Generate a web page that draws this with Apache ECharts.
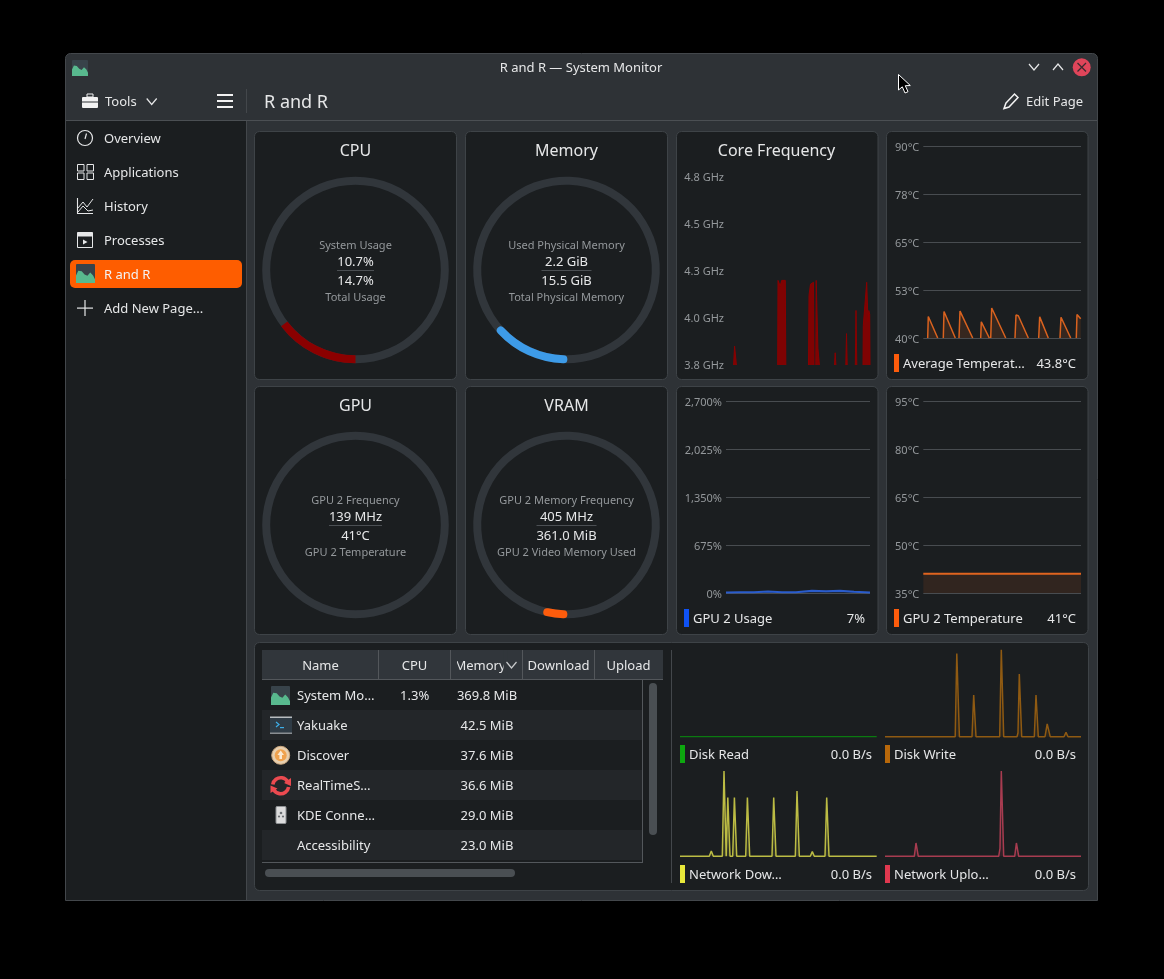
<!DOCTYPE html>
<html>
<head>
<meta charset="UTF-8">
<title>R and R — System Monitor</title>
<script src="https://cdn.jsdelivr.net/npm/echarts@6/dist/echarts.min.js"></script>
<style>
	html,body{margin:0;padding:0;background:#000;}
	#main{width:1164px;height:979px;}
</style>
</head>
<body>
<div id="main"></div>
<script>
	var FONT = '"Noto Sans"';
	var TEXT = '#e6e7e8', DIM = '#94989b', PANEL = '#1b1e20', LINE = '#484c50';

	/* ring cards */
	var rings = [
		{title:"CPU", cx:355.5, cy:270, value:14.7, start:270, color:"#8b0000", cap:false, top:"System Usage", v1:"10.7%", v2:"14.7%", bottom:"Total Usage", w:37},
		{title:"Memory", cx:566.5, cy:270, value:12.6, start:268, color:"#3d9be8", cap:true, top:"Used Physical Memory", v1:"2.2 GiB", v2:"15.5 GiB", bottom:"Total Physical Memory", w:50},
		{title:"GPU", cx:355.5, cy:525, value:0, start:270, color:"#fd5c0c", cap:false, top:"GPU 2 Frequency", v1:"139 MHz", v2:"41°C", bottom:"GPU 2 Temperature", w:53},
		{title:"VRAM", cx:566.5, cy:525, value:2.9, start:268, color:"#fd5c0c", cap:true, top:"GPU 2 Memory Frequency", v1:"405 MHz", v2:"361.0 MiB", bottom:"GPU 2 Video Memory Used", w:60}
	];

	/* [t, value], null row breaks the line */
	var G = null;
	var coreFreq = [[6.6,3.75],[7.6,3.85],[8.6,3.85],[9.4,3.75],[G,G],
		[50.7,3.75],[51,4.2],[52.8,4.2],[53.2,4.17],[54.3,4.17],[54.7,4.2],[58.3,4.2],[58.8,3.75],[G,G],
		[81.5,3.75],[82,4.12],[83,4.12],[83.5,4.18],[86.5,4.19],[87,3.75],[G,G],
		[88.8,3.75],[89.2,4.2],[90.6,4.2],[90.9,3.84],[92,3.84],[92.4,3.75],[G,G],
		[107.5,3.75],[108.2,3.815],[108.9,3.75],[G,G],
		[118.8,3.75],[119.5,3.917],[120.2,3.75],[G,G],
		[128.3,3.75],[129,4.04],[129.8,3.75],[G,G],
		[136,3.75],[136.3,3.96],[138,3.97],[139.7,4.19],[141,3.98],[141.8,4.04],[142.7,4.02],[143,3.75]];
	var avgTemp = [[4.4,40],[5,45.6],[14.4,40],[G,G],
		[20,40],[20.7,46.9],[32,40],[G,G],
		[35.7,40],[36.7,47],[49.4,40],[G,G],
		[57.4,40],[58,44.2],[66,40],[G,G],
		[67.4,40],[68.4,47.8],[82.4,40],[G,G],
		[91.7,40],[92.7,46],[95,45.8],[105,40],[G,G],
		[115.4,40],[116.4,45.5],[125,40],[G,G],
		[136.7,40],[137.7,45.4],[147.4,40],[G,G],
		[153,40],[153.7,46.1],[157.4,45]];
	var gpuUsage = [[0,7],[14,10],[28,9],[42,22],[56,12],[70,11],[86,32],[100,24],[114,33],[128,16],[144,7]];
	var gpuTemp = [[0,41],[40,41],[80,41],[120,41],[157.7,41]];
	var diskRead = [[0,0],[100,0],[196.7,0]];
	var diskWrite = [[0,0],[70.2,0],[71.8,83.3],[72.8,83.3],[74.4,0],[87,0],[88.7,41.7],[89.3,41.7],[91,0],
		[114.7,0],[116.3,87],[117.1,87],[118.7,0],[132,0],[133,4],[134.3,62.7],[135.1,62.7],[136.7,0],
		[149.3,0],[151,41.7],[151.6,41.7],[153.3,0],[160,0],[162.2,12.7],[163.2,12.7],[165.2,0],
		[179,0],[181,4.3],[183,0],[196,0]];
	var netDown = [[0,0],[29.3,0],[31.3,5.3],[33.3,0],[42.3,0],[44,85.3],[44.7,85.3],[46.2,0],[46.6,0],[47.8,58.7],[48.4,58.7],[50,0],
		[52.7,0],[54.4,58.7],[55,58.7],[56.7,0],[65.7,0],[67.4,58.7],[68,58.7],[69.7,0],[92,0],[93.7,58.7],[94.3,58.7],[96,0],
		[115.3,0],[117,65.3],[117.6,65.3],[119.3,0],[130.3,0],[132.3,4.7],[134.3,0],[145,0],[146.7,58.7],[147.3,58.7],[149,0],[196.7,0]];
	var netUp = [[0,0],[29.3,0],[31,13.3],[31.6,13.3],[33.3,0],[113.7,0],[115,8],[116.3,85.3],[117.1,85.3],[118.7,0],
		[129.7,0],[131.4,13.3],[132,13.3],[133.7,0],[196,0]];

	function f1(v){ return v.toFixed(1) + " GHz"; }
	function f0(v){ return v.toFixed(0) + "°C"; }
	function pct(v){ return v.toLocaleString("en-US") + "%"; }

	var charts = [
		{grid:[727,177,143,188], xMax:143, yMin:3.75, yMax:4.75, step:0.25, fmt:f1, split:false, color:"#8b0000", alpha:0.9, lw:1, margin:3, drop:2, data:coreFreq},
		{grid:[923.3,146,157.7,192], xMax:157.7, yMin:40, yMax:90, step:12.5, fmt:f0, split:true, color:"#d9621f", alpha:0.14, lw:1.5, margin:4, drop:4, data:avgTemp},
		{grid:[726,401,144,192], xMax:144, yMin:0, yMax:2700, step:675, fmt:pct, split:true, color:"#2a5ccc", alpha:0.2, lw:2, margin:4, drop:4, data:gpuUsage},
		{grid:[923.3,401,157.7,192], xMax:157.7, yMin:35, yMax:95, step:15, fmt:f0, split:true, color:"#e0641f", alpha:0.11, lw:2, margin:4, drop:4, data:gpuTemp},
		{grid:[680,649.7,196.7,87], xMax:196.7, yMin:0, yMax:87, color:"#0b7a10", alpha:0.15, lw:1.2, data:diskRead},
		{grid:[885,649.7,196,87], xMax:196, yMin:0, yMax:87, color:"#8f5a12", alpha:0.15, lw:1.5, data:diskWrite},
		{grid:[680,769.3,196.7,87], xMax:196.7, yMin:0, yMax:87, color:"#bcbc44", alpha:0.15, lw:1.5, data:netDown},
		{grid:[885,769.3,196,87], xMax:196, yMin:0, yMax:87, color:"#a83c50", alpha:0.15, lw:1.5, data:netUp}
	];

	var legends = [
		{x:894, y:363, w:182, color:"#fd5c0c", name:"Average Temperat…", value:"43.8°C"},
		{x:684, y:618, w:181, color:"#0f52f5", name:"GPU 2 Usage", value:"7%"},
		{x:894, y:618, w:182, color:"#fd5c0c", name:"GPU 2 Temperature", value:"41°C"},
		{x:680, y:754, w:192, color:"#0da80f", name:"Disk Read", value:"0.0 B/s"},
		{x:885, y:754, w:191, color:"#b8680a", name:"Disk Write", value:"0.0 B/s"},
		{x:680, y:874, w:192, color:"#e8e83a", name:"Network Dow…", value:"0.0 B/s"},
		{x:885, y:874, w:191, color:"#e0384f", name:"Network Uplo…", value:"0.0 B/s"}
	];

	var procs = [
		["System Mo…","1.3%","369.8 MiB"],
		["Yakuake","","42.5 MiB"],
		["Discover","","37.6 MiB"],
		["RealTimeS…","","36.6 MiB"],
		["KDE Conne…","","29.0 MiB"],
		["Accessibility","","23.0 MiB"]
	];

	var pages = ["Overview","Applications","History","Processes","R and R","Add New Page..."];

	/* drawing helpers for everything around the charts */
	var els = [];
	function text(s,x,y,size,fill,align){
		els.push({type:"text",silent:true,style:{text:s,x:x,y:y+1,fill:fill||TEXT,font:size+"px "+FONT,align:align||"left",verticalAlign:"middle"}});
	}
	function rect(x,y,w,h,fill,r,stroke){
		els.push({type:"rect",silent:true,shape:{x:x,y:y,width:w,height:h,r:r||0},style:{fill:fill,stroke:stroke||null,lineWidth:1}});
	}
	function pline(pts,stroke,lw){
		els.push({type:"polyline",silent:true,shape:{points:pts},style:{fill:null,stroke:stroke||TEXT,lineWidth:lw||1.3}});
	}
	function poly(pts,fill,stroke,lw){
		els.push({type:"polygon",silent:true,shape:{points:pts},style:{fill:fill,stroke:stroke||null,lineWidth:lw||1}});
	}
	function circle(cx,cy,r,fill,stroke,lw){
		els.push({type:"circle",silent:true,shape:{cx:cx,cy:cy,r:r},style:{fill:fill,stroke:stroke||null,lineWidth:lw||1}});
	}
	function arc(cx,cy,r,a,b,stroke,lw){
		els.push({type:"arc",silent:true,shape:{cx:cx,cy:cy,r:r,startAngle:a,endAngle:b},style:{fill:null,stroke:stroke,lineWidth:lw}});
	}
	function chevron(x,y,up,c){
		pline(up?[[x-5,y+3],[x,y-3],[x+5,y+3]]:[[x-5,y-3],[x,y+3],[x+5,y-3]],c||TEXT,1.2);
	}
	function monitorIcon(x,y,s){
		rect(x,y,s,s,"#38434a",1);
		var m=[[0,.6],[.12,.35],[.3,.38],[.45,.55],[.6,.62],[.75,.45],[.9,.6],[1,.8],[1,1],[0,1]];
		poly(m.map(function(p){return [x+p[0]*s,y+p[1]*s];}),"#58b98e");
	}
	function card(x,y,w,h){ rect(x+.5,y+.5,w,h,PANEL,5,"#3e4347"); }

	/* window */
	rect(65.5,53.5,1032,847,"#2e3236",[5,5,0,0],"#43474b");
	rect(66,121,180,779,PANEL);
	rect(66,120,1031,1,"#4b4f53");
	rect(246,121,1,779,"#43474b");
	rect(246,89,1,24,"#43474b");

	monitorIcon(72,60,16);
	text("R and R — System Monitor",581,67,13,TEXT,"center");
	chevron(1034,67,false);
	chevron(1058,67,true);
	circle(1081.7,67.3,9,"#e0455a");
	pline([[1077.5,63],[1086,71.5]],"#3a2a2e",1.2);
	pline([[1086,63],[1077.5,71.5]],"#3a2a2e",1.2);

	/* toolbar */
	rect(82,97,16,11,"#f2f2f2",1);
	rect(87,94,6,3,null,0,"#f2f2f2");
	rect(82,101.5,16,1,"#2e3236");
	text("Tools",105,101,13);
	chevron(151.7,101.5,false);
	rect(217,94,16,2,"#f2f2f2");
	rect(217,100,16,2,"#f2f2f2");
	rect(217,106,16,2,"#f2f2f2");
	text("R and R",264,101.5,18);
	poly([[1006,103],[1014.5,94],[1018,97.5],[1009,107],[1004,108.5]],null,"#f2f2f2",1.5);
	text("Edit Page",1026,101,13);

	/* sidebar */
	rect(70,260,172,28,"#fe5d00",5);
	pages.forEach(function(p,i){ text(p,104,138+34*i,13,i==4?"#f4f4f4":TEXT); });
	circle(85,138,7.5,null,TEXT,1.2);
	pline([[85,139],[86.5,133.5]],TEXT,1.2);
	[[77,164.5],[86.5,164.5],[77,173],[86.5,173]].forEach(function(p){ rect(p[0]+.5,p[1],6.5,6.5,null,0,TEXT); });
	pline([[77.5,198],[77.5,213.5],[93,213.5]],TEXT,1.1);
	pline([[78,208],[83,202],[87,207],[93,199]],TEXT,1);
	pline([[78,212],[83,206],[88,211],[93,210]],TEXT,1);
	rect(77.5,232.5,15,15,null,0,TEXT);
	rect(77.5,232.5,15,4,TEXT);
	poly([[83,239.5],[83,244.5],[87.5,242]],TEXT);
	monitorIcon(76,264,19);
	rect(77,307.5,16,1.2,TEXT);
	rect(84.4,300,1.2,16,TEXT);

	/* cards */
	[[254,131],[465,131],[676,131],[886,131],[254,386],[465,386],[676,386],[886,386]].forEach(function(c,i){
		var w = (c[0]==676||c[0]==886)? 201.5 : 202;
		card(c[0],c[1],w,248);
	});
	card(254,642,834,248);
	text("Core Frequency",776.5,150.5,16,TEXT,"center");

	rings.forEach(function(d){
		text(d.title,d.cx,d.cy-119.5,16,TEXT,"center");
		text(d.top,d.cx,d.cy-25,11,DIM,"center");
		text(d.v1,d.cx,d.cy-8.5,13,TEXT,"center");
		rect(d.cx-d.w/2,d.cy,d.w,1,"#4b4f53");
		text(d.v2,d.cx,d.cy+10.5,13,TEXT,"center");
		text(d.bottom,d.cx,d.cy+27,11,DIM,"center");
	});

	legends.forEach(function(d){
		rect(d.x,d.y-9,5,18,d.color);
		text(d.name,d.x+9,d.y,13);
		text(d.value,d.x+d.w,d.y,13,TEXT,"right");
	});

	/* process table */
	rect(262,650,401,29.5,"#31363b");
	rect(262,679,401,1,"#53575b");
	[378,450,522,594].forEach(function(x){ rect(x,650,1,29,"#53575b"); });
	text("Name",320.5,665,13,TEXT,"center");
	text("CPU",414.5,665,13,TEXT,"center");
	text("Memory",480,665,13,TEXT,"center");
	rect(451,650,6,29,"#31363b");
	rect(503.5,650,4,29,"#31363b");
	chevron(511.5,665,false,"#c8cacc");
	text("Download",558.5,665,13,TEXT,"center");
	text("Upload",628.5,665,13,TEXT,"center");
	procs.forEach(function(p,i){
		var y = 680+30*i;
		rect(262,y,380,30,i%2?"#232629":PANEL);
		text(p[0],297,y+15.2,13);
		text(p[1],414.7,y+15.2,13,TEXT,"center");
		text(p[2],487,y+15.2,13,TEXT,"center");
	});
	rect(262,862,380.5,1,"#53575b");
	rect(642,680,1,183,"#53575b");
	rect(649,683,8,152,"#4a4f53",4);
	rect(265,869,250,8,"#4a4f53",4);
	rect(671,650,1,233,"#43474b");

	/* app icons */
	monitorIcon(271,686,19);
	rect(270,717,22,17,"#2f3b45");
	rect(270,716.5,22,1.5,"#b8bcc0");
	rect(270,732.5,22,1.5,"#8a8e92");
	pline([[276,722],[279,724.5],[276,727]],"#3daee9",1.2);
	rect(280,727,4,1.2,"#3daee9");
	circle(280.7,755.3,9,"#e8cfae","#c9a67e",1);
	circle(280.7,755.3,6,"#f0a24e");
	poly([[280.7,750.5],[284,755],[282,755],[282,759],[279.4,759],[279.4,755],[277.4,755]],"#fbe9d2");
	arc(280.7,785.7,8,Math.PI*1.05,Math.PI*1.85,"#ec4a50",3.6);
	arc(280.7,785.7,8,Math.PI*0.05,Math.PI*0.85,"#ec4a50",3.6);
	poly([[291,778],[291,786],[284,783]],"#ec4a50");
	poly([[270.5,793],[270.5,785.5],[277.5,788.5]],"#ec4a50");
	rect(276,806.5,10,17,"#dcdcdc",1,"#8e9194");
	circle(281,813,1.3,"#6a6e72");
	circle(279,816.5,1.1,"#6a6e72");
	circle(283,816.5,1.1,"#6a6e72");

	/* mouse cursor */
	poly([[898.5,74.5],[898.5,90],[902.3,86.8],[905,93],[908,91.7],[905.3,85.7],[910.3,85.5]],"#000","#fff");

	/* build the echarts option */
	var grids=[],xAxes=[],yAxes=[],series=[];
	charts.forEach(function(c,i){
		grids.push({left:c.grid[0],top:c.grid[1],width:c.grid[2],height:c.grid[3],containLabel:false});
		xAxes.push({type:"value",gridIndex:i,min:0,max:c.xMax,show:false,splitLine:{show:false}});
		var y = {type:"value",gridIndex:i,min:c.yMin,max:c.yMax,axisLine:{show:false},axisTick:{show:false},
			splitLine:{show:!!c.split,lineStyle:{color:LINE,width:1}}};
		if(c.step){
			y.interval = c.step;
			/* the labels sit a little under their grid line in the reference */
			y.axisLabel = {color:DIM,fontSize:11,fontFamily:FONT,margin:c.margin,verticalAlign:"top",lineHeight:c.drop,formatter:c.fmt};
		}else{
			y.show = false;
		}
		yAxes.push(y);
		series.push({type:"line",xAxisIndex:i,yAxisIndex:i,data:c.data,showSymbol:false,symbol:"none",
			connectNulls:false,lineStyle:{color:c.color,width:c.lw},itemStyle:{color:c.color},
			areaStyle:{color:c.color,opacity:c.alpha},clip:i<4});
	});
	rings.forEach(function(d){
		series.push({type:"gauge",center:[d.cx,d.cy],radius:93.3,min:0,max:100,startAngle:d.start,endAngle:d.start-360,
			pointer:{show:false},axisTick:{show:false},splitLine:{show:false},axisLabel:{show:false},
			title:{show:false},detail:{show:false},
			axisLine:{lineStyle:{width:8,color:[[1,"#31363b"]]}},
			progress:{show:true,width:8,roundCap:d.cap,itemStyle:{color:d.color}},
			data:[{value:d.value}]});
	});

	var myChart = echarts.init(document.getElementById("main"));
	myChart.setOption({
		animation:false,
		backgroundColor:"#000",
		textStyle:{fontFamily:FONT},
		graphic:{elements:els},
		grid:grids,
		xAxis:xAxes,
		yAxis:yAxes,
		series:series
	});
</script>
</body>
</html>
